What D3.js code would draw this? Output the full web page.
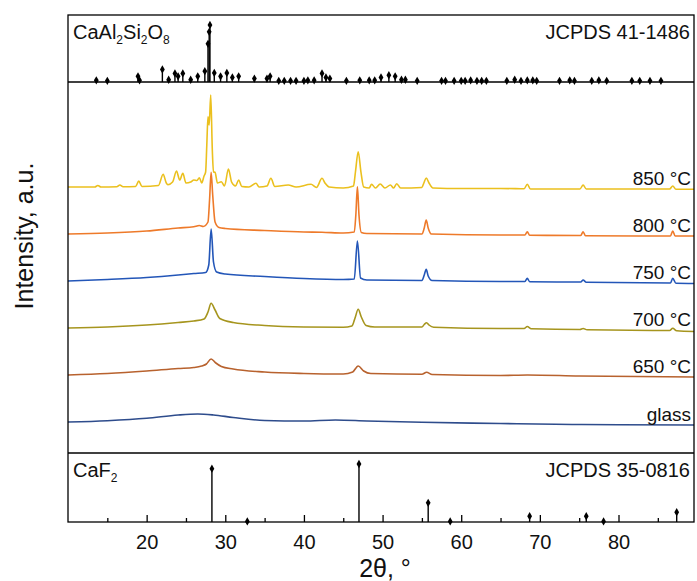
<!DOCTYPE html>
<html>
<head>
<meta charset="utf-8">
<script src="https://cdn.jsdelivr.net/npm/d3@7"></script>
<style>
  body { margin: 0; background: #fff; }
  svg text { font-family: Arial, "Liberation Sans", sans-serif; fill: #111; }
</style>
</head>
<body>
<svg id="chart" width="697" height="581"></svg>
<script>
// XRD patterns, 2theta (deg) vs intensity (a.u.)
var labels = ["glass", "650 \u00B0C", "700 \u00B0C", "750 \u00B0C", "800 \u00B0C", "850 \u00B0C"];
var offsets = [300, 780, 1250, 1720, 2190, 2660];

var glass = [[10,10],[15,23],[20,47],[24,80],[26.5,90],[28.5,80],[31,55],[35,25],[40,20],[44,30],[48,20],[55,7],[65,-5],[72,-13],[80,-18],[89.6,-20]];
var s650 = [[10,0],[15,15],[20,40],[24,65],[26,75],[27,90],[27.6,110],[28.2,160],[28.8,120],[29.5,85],[31,60],[35,30],[40,15],[45,10],[46.2,30],[46.9,90],[47.6,40],[48.5,15],[55,7],[55.6,27],[56.3,5],[65,-5],[68.4,0],[75,-10],[89.6,-20]];
var s700 = [[10,0],[15,10],[20,30],[24,55],[26,70],[27.3,90],[27.8,160],[28.2,247],[28.7,180],[29.3,95],[31,55],[35,25],[40,10],[45,7],[46.1,20],[46.5,100],[46.9,187],[47.3,110],[47.9,25],[49,10],[55,10],[55.3,35],[55.6,53],[55.9,30],[56.5,7],[65,-5],[68,-5],[68.4,15],[68.9,-7],[75.1,-15],[75.5,-5],[76,-18],[86.5,-25],[86.9,-3],[87.4,-28],[89.6,-35]];
var s750 = [[10,0],[15,15],[20,35],[24,60],[26,75],[27.5,85],[27.9,160],[28.2,520],[28.5,190],[28.9,90],[30,70],[35,45],[40,25],[45,15],[46.4,20],[46.8,400],[47.2,30],[48,10],[55,5],[55.3,60],[55.55,117],[55.8,50],[56.3,5],[65,-5],[68.1,-5],[68.4,27],[68.7,-7],[75.2,-10],[75.5,10],[75.9,-13],[86.6,-20],[86.9,27],[87.3,-23],[89.6,-25]];
var s800 = [[10,0],[15,10],[20,30],[24,60],[26,73],[26.7,85],[27.2,75],[27.8,120],[28.0,340],[28.2,617],[28.4,390],[28.7,120],[29.2,65],[30,55],[35,35],[40,20],[42.3,18],[45,10],[46.4,20],[46.6,190],[46.8,473],[47.0,190],[47.3,15],[48,5],[55,0],[55.3,60],[55.55,140],[55.8,60],[56.2,0],[65,-10],[68.1,-10],[68.4,23],[68.7,-13],[75.2,-15],[75.5,23],[75.8,-17],[86.6,-20],[86.9,30],[87.2,-20],[89.6,-20]];
var s850 = [[10,0],[13.4,0],[13.8,15],[14.2,0],[16.2,2],[16.6,20],[17,3],[18.6,5],[19.0,60],[19.4,5],[21.5,15],[22.1,127],[22.5,40],[22.7,23],[23.3,50],[23.8,160],[24.2,70],[24.6,137],[25.0,40],[25.6,50],[26.0,70],[26.4,65],[26.7,93],[27.0,40],[27.3,110],[27.5,150],[27.65,420],[27.8,703],[27.95,620],[28.15,920],[28.35,370],[28.5,150],[28.7,147],[29.0,40],[29.5,53],[29.9,10],[30.4,180],[30.8,50],[31.3,10],[31.7,70],[32.1,5],[33,0],[33.9,37],[34.3,0],[35.3,10],[35.8,87],[36.3,5],[38,20],[39,0],[40.9,27],[41.6,-5],[42.3,87],[42.7,37],[43.2,0],[45,-10],[46.3,10],[46.55,150],[46.9,353],[47.25,150],[47.6,0],[48.3,-10],[48.6,27],[49.1,-10],[49.7,30],[50.3,-10],[51,20],[51.4,-10],[51.8,33],[52.3,-10],[55,-5],[55.25,40],[55.55,90],[55.9,40],[56.4,-10],[60,-15],[65,-15],[68.0,-17],[68.4,27],[68.8,-20],[75.1,-20],[75.5,20],[75.9,-20],[86.5,-20],[86.9,10],[87.3,-23],[89.6,-23]];
var series = [glass, s650, s700, s750, s800, s850];
var colors = ["#2E4C8C", "#B8622E", "#A6951E", "#2356B8", "#EE7A2A", "#EBC01E"];

// JCPDS 41-1486 (CaAl2Si2O8) reference lines
var anTheta = [13.6,15.0,18.9,19.1,22.0,22.8,23.6,24.0,24.6,25.6,26.5,27.4,27.8,27.95,28.05,28.6,29.4,30.2,30.9,31.7,33.7,35.3,35.7,36.8,37.5,38.3,39.0,40.0,40.5,41.3,42.3,42.8,43.3,45.4,47.1,48.3,49.0,49.8,50.8,51.6,52.4,52.9,54.4,57.5,58.0,59.1,60.0,60.5,61.2,62.0,62.6,63.2,65.8,66.8,67.6,68.4,69.1,69.6,72.5,73.8,74.4,76.6,77.5,78.5,81.7,82.7,84.0,85.4];
var anInt   = [3,2,10,3,22,4,15,10,15,4,10,19,67,88,100,16,10,16,8,10,6,6,10,2,2,2,2,2,3,3,15,8,6,2,3,3,3,8,12,10,4,4,2,2,2,2,2,2,3,2,2,2,2,4,2,3,3,2,2,3,2,2,3,2,2,2,2,2];
// JCPDS 35-0816 (CaF2) reference lines
var cfTheta = [28.3,32.8,47.0,55.8,58.6,68.7,75.9,78.1,87.4];
var cfInt   = [92,1,100,33,1,10,10,1,17];

var majorTicks = [20, 30, 40, 50, 60, 70, 80];
var minorTicks = [15, 25, 35, 45, 55, 65, 75, 85];

var plotLeft = 68, plotRight = 694, plotTop = 15, div1 = 82, div2 = 453, plotBottom = 522;

var svg = d3.select("#chart");

var x = d3.scaleLinear().domain([10, 89.6]).range([plotLeft, plotRight]);
var yTop = d3.scaleLinear().domain([0, 100]).range([div1, 25]);
var yMid = d3.scaleLinear().domain([0, 3710]).range([div2, div1]);
var yBot = d3.scaleLinear().domain([0, 100]).range([plotBottom, 464]);

// curves
var line = d3.line().curve(d3.curveMonotoneX);
series.forEach(function(s, i) {
  svg.append("path")
    .attr("d", line(s.map(function(p) { return [x(p[0]), yMid(offsets[i] + p[1])]; })))
    .attr("fill", "none")
    .attr("stroke", colors[i])
    .attr("stroke-width", 1.6)
    .attr("stroke-linejoin", "round");
  svg.append("text")
    .attr("x", 691)
    .attr("y", yMid(offsets[i]) - 2)
    .attr("text-anchor", "end")
    .attr("font-size", 19)
    .text(labels[i]);
});

// stick patterns
var diamond = d3.symbol().type(d3.symbolDiamond).size(20);
function sticks(thetas, ints, yScale) {
  var g = svg.append("g");
  thetas.forEach(function(t, i) {
    g.append("line")
      .attr("x1", x(t)).attr("x2", x(t))
      .attr("y1", yScale(0)).attr("y2", yScale(ints[i]))
      .attr("stroke", "#000").attr("stroke-width", 1.4);
    g.append("path")
      .attr("d", diamond())
      .attr("transform", "translate(" + x(t) + "," + yScale(ints[i]) + ")")
      .attr("fill", "#000");
  });
}
sticks(anTheta, anInt, yTop);
sticks(cfTheta, cfInt, yBot);

// frame and panel dividers
svg.append("rect")
  .attr("x", plotLeft).attr("y", plotTop)
  .attr("width", plotRight - plotLeft).attr("height", plotBottom - plotTop)
  .attr("fill", "none").attr("stroke", "#000").attr("stroke-width", 1.3);
[div1, div2].forEach(function(d) {
  svg.append("line")
    .attr("x1", plotLeft).attr("x2", plotRight).attr("y1", d).attr("y2", d)
    .attr("stroke", "#000").attr("stroke-width", 1.3);
});

// x axis, ticks pointing inward
var ax = svg.append("g").attr("transform", "translate(0," + plotBottom + ")")
  .call(d3.axisBottom(x).tickValues(majorTicks).tickSizeInner(-7).tickSizeOuter(0).tickPadding(13));
ax.select(".domain").remove();
ax.selectAll("line").attr("stroke", "#000").attr("stroke-width", 1.3);
ax.selectAll("text").attr("font-size", 20).attr("font-family", "Arial, 'Liberation Sans', sans-serif").attr("fill", "#111");
var axm = svg.append("g").attr("transform", "translate(0," + plotBottom + ")")
  .call(d3.axisBottom(x).tickValues(minorTicks).tickSizeInner(-4).tickSizeOuter(0).tickFormat(""));
axm.select(".domain").remove();
axm.selectAll("line").attr("stroke", "#000").attr("stroke-width", 1.3);

// panel captions
var t1 = svg.append("text").attr("x", 73).attr("y", 39).attr("font-size", 20);
t1.append("tspan").text("CaAl");
t1.append("tspan").attr("dy", 5).attr("font-size", 12).text("2");
t1.append("tspan").attr("dy", -5).text("Si");
t1.append("tspan").attr("dy", 5).attr("font-size", 12).text("2");
t1.append("tspan").attr("dy", -5).text("O");
t1.append("tspan").attr("dy", 5).attr("font-size", 12).text("8");
svg.append("text").attr("x", 690).attr("y", 39).attr("text-anchor", "end")
  .attr("font-size", 20).text("JCPDS 41-1486");

var t2 = svg.append("text").attr("x", 73).attr("y", 477).attr("font-size", 20);
t2.append("tspan").text("CaF");
t2.append("tspan").attr("dy", 5).attr("font-size", 12).text("2");
svg.append("text").attr("x", 690).attr("y", 477).attr("text-anchor", "end")
  .attr("font-size", 20).text("JCPDS 35-0816");

// axis titles
svg.append("text").attr("x", 385).attr("y", 577).attr("text-anchor", "middle")
  .attr("font-size", 25).text("2\u03B8, \u00B0");
svg.append("text")
  .attr("transform", "translate(33,236) rotate(-90)")
  .attr("text-anchor", "middle")
  .attr("font-size", 25)
  .text("Intensity, a.u.");
</script>
</body>
</html>
